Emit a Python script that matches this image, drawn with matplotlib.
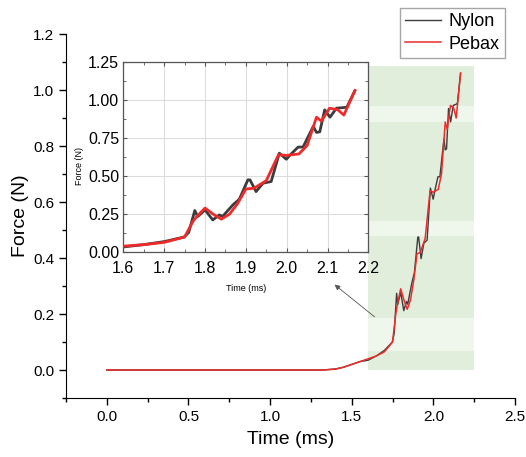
import numpy as np
import matplotlib
matplotlib.use("Agg")
import matplotlib.pyplot as plt
from matplotlib.ticker import MultipleLocator

plt.rcParams['font.family'] = ['Liberation Sans', 'DejaVu Sans']

# Données (temps en ms, force en N)
t_nylon = [0.0, 1.32, 1.40, 1.45, 1.50, 1.55, 1.60, 1.65, 1.70, 1.749, 1.76, 1.775,
           1.782, 1.80, 1.819, 1.835, 1.843, 1.868, 1.884, 1.905, 1.91, 1.925, 1.942,
           1.962, 1.982, 1.999, 2.011, 2.028, 2.04, 2.065, 2.073, 2.081, 2.093, 2.106,
           2.122, 2.143, 2.147, 2.167]
f_nylon = [0.0, 0.0, 0.004, 0.01, 0.02, 0.03, 0.035, 0.05, 0.07, 0.10, 0.13, 0.274,
           0.234, 0.278, 0.212, 0.245, 0.235, 0.31, 0.348, 0.475, 0.475, 0.398, 0.453,
           0.464, 0.65, 0.61, 0.645, 0.69, 0.69, 0.825, 0.786, 0.79, 0.934, 0.886,
           0.945, 0.95, 0.95, 1.06]

t_pebax = [0.0, 1.32, 1.40, 1.45, 1.50, 1.55, 1.60, 1.65, 1.70, 1.75, 1.77, 1.78,
           1.80, 1.82, 1.84, 1.86, 1.88, 1.90, 1.92, 1.95, 1.98, 2.00, 2.03, 2.05,
           2.073, 2.085, 2.105, 2.125, 2.14, 2.167]
f_pebax = [0.0, 0.0, 0.003, 0.01, 0.02, 0.03, 0.04, 0.05, 0.065, 0.10, 0.20, 0.235,
           0.29, 0.25, 0.217, 0.25, 0.32, 0.415, 0.42, 0.47, 0.64, 0.635, 0.645, 0.70,
           0.886, 0.86, 0.945, 0.935, 0.90, 1.06]

# zone verte (x1, x2, y_bas, y_haut) et bandes claires
zone = (1.6, 2.25, 0.0, 1.087)
bandes = [(0.068, 0.186), (0.477, 0.534), (0.886, 0.944)]

col_nylon = "#3c3c3c"
col_pebax = "#ee2b2b"

fig = plt.figure(figsize=(5.26, 4.57), dpi=100)
ax = fig.add_axes([0.1255, 0.129, 0.8535, 0.7966])

ax.fill_between([zone[0], zone[1]], zone[2], zone[3], color="#e1eedb", lw=0, zorder=0)
for b0, b1 in bandes:
    ax.fill_between([zone[0], zone[1]], b0, b1, color="#eff7ec", lw=0, zorder=0.5)

ax.plot(t_nylon, f_nylon, color=col_nylon, lw=1.0, label="Nylon", zorder=2)
ax.plot(t_pebax, f_pebax, color=col_pebax, lw=1.1, label="Pebax", zorder=3)

ax.set_xlim(-0.25, 2.5)
ax.set_ylim(-0.1, 1.2)
ax.xaxis.set_minor_locator(MultipleLocator(0.25))
ax.yaxis.set_minor_locator(MultipleLocator(0.1))
ax.set_yticks(np.arange(0, 1.21, 0.2))
ax.set_xticks(np.arange(0, 2.51, 0.5))
ax.set_yticklabels(["%.1f" % v for v in np.arange(0, 1.21, 0.2)])
ax.spines["top"].set_visible(False)
ax.spines["right"].set_visible(False)
ax.tick_params(which="major", direction="out", length=5, width=1, labelsize=11)
ax.tick_params(which="minor", direction="out", length=3, width=1)
ax.set_xlabel("Time (ms)", fontsize=14, labelpad=5)
ax.set_ylabel("Force (N)", fontsize=14, labelpad=3)

leg = ax.legend(loc="lower right", bbox_to_anchor=(0.978, 0.934), fontsize=13,
                frameon=True, fancybox=False, edgecolor="#909090",
                handlelength=2.0, handletextpad=0.4, borderpad=0.3,
                labelspacing=0.3, borderaxespad=0)
leg.get_frame().set_linewidth(1.0)

ax.annotate("", xy=(1.395, 0.305), xytext=(1.64, 0.19),
            arrowprops=dict(arrowstyle="-|>", color="#555555", lw=0.6,
                            mutation_scale=8, shrinkA=0, shrinkB=0))

# encart
ins = fig.add_axes([0.2345, 0.448, 0.4658, 0.417])
ins.plot(t_nylon, f_nylon, color=col_nylon, lw=2.0, zorder=2)
ins.plot(t_pebax, f_pebax, color=col_pebax, lw=2.0, zorder=3)
ins.set_xlim(1.6, 2.2)
ins.set_ylim(0, 1.25)
ins.set_xticks(np.arange(1.6, 2.21, 0.1))
ins.set_xticklabels(["%.1f" % v for v in np.arange(1.6, 2.21, 0.1)])
ins.set_yticks(np.arange(0, 1.26, 0.25))
ins.set_yticklabels(["%.2f" % v for v in np.arange(0, 1.26, 0.25)])
ins.xaxis.set_minor_locator(MultipleLocator(0.05))
ins.yaxis.set_minor_locator(MultipleLocator(0.125))
ins.grid(True, color="#dddddd", lw=0.8)
ins.set_axisbelow(True)
for s in ins.spines.values():
    s.set_color("#555555")
    s.set_linewidth(0.9)
ins.tick_params(which="both", direction="in", top=True, right=True,
                color="#555555", labelsize=11.5)
ins.tick_params(axis="x", pad=6)
ins.tick_params(axis="y", pad=3)
ins.tick_params(which="major", length=3)
ins.tick_params(which="minor", length=2)
ins.set_xlabel("Time (ms)", fontsize=6.5)
ins.set_ylabel("Force (N)", fontsize=6.5)
ins.xaxis.set_label_coords(0.5, -0.164)
ins.yaxis.set_label_coords(-0.16, 0.453)

fig.savefig("out.png", dpi=100)
